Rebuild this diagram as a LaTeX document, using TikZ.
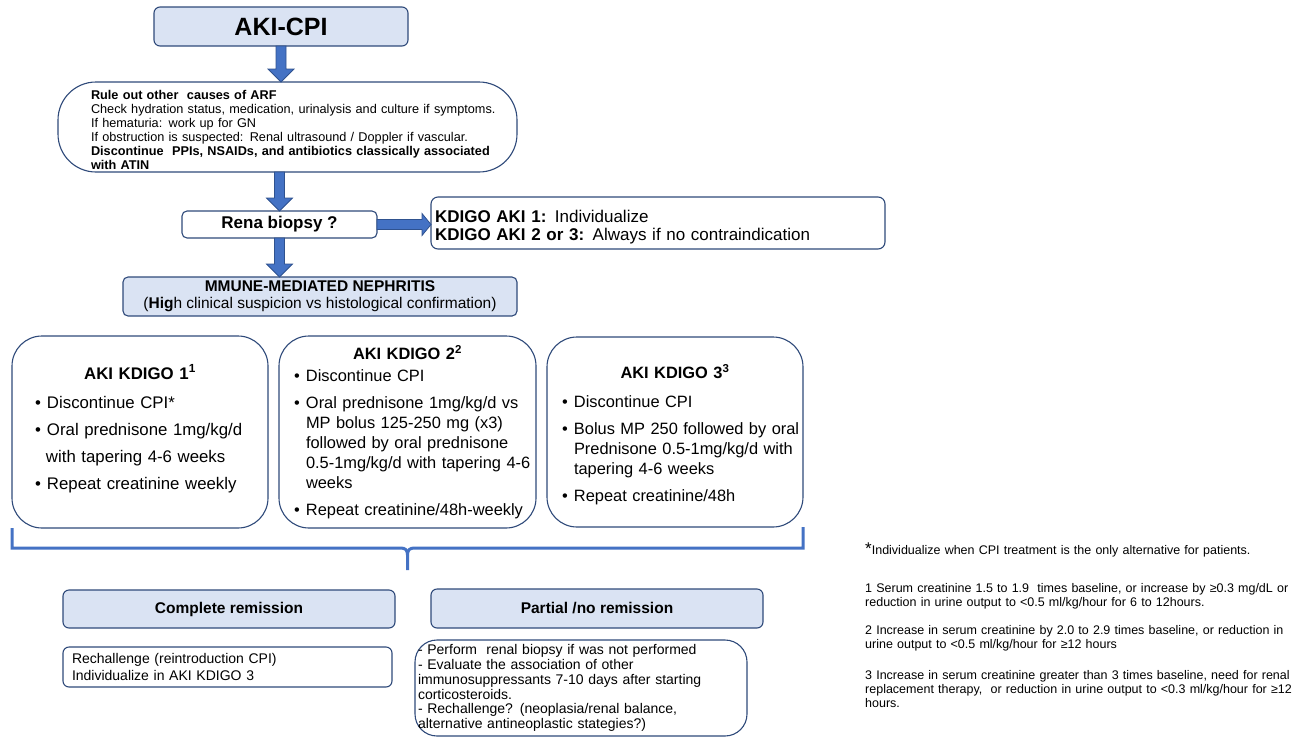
\documentclass[tikz,border=0pt]{standalone}
\usepackage{fontspec}
\setmainfont{Liberation Sans}
\usetikzlibrary{calc}
\definecolor{lb}{HTML}{DAE3F3}
\definecolor{bd}{HTML}{2F4A7A}
\definecolor{ab}{HTML}{4472C4}
\definecolor{abd}{HTML}{2F528F}
\newcommand\fs[2]{\fontsize{#1}{#2}\selectfont}
\newcommand\kset[1]{\raggedright\leftskip=#1\rightskip=-20pt plus 1fil\relax}
\newcommand\nl{\break}
\newcommand\bitem[1]{\par\hangindent=12pt\hangafter=1\noindent\makebox[12pt][l]{\textbullet}#1}
\newcommand\fatdown[2]{\draw[fatarrow] let \p1=(#1), \p2=(#2) in (\x1-5pt,\y1) -- (\x1-5pt,\y2+13pt) -- (\x1-13pt,\y2+13pt) -- (\x1,\y2) -- (\x1+13pt,\y2+13pt) -- (\x1+5pt,\y2+13pt) -- (\x1+5pt,\y1) -- cycle;}
\newcommand\fatright[2]{\draw[fatarrow] let \p1=(#1), \p2=(#2) in (\x1,\y1+5pt) -- (\x2-9pt,\y1+5pt) -- (\x2-9pt,\y1+11pt) -- (\x2,\y1) -- (\x2-9pt,\y1-11pt) -- (\x2-9pt,\y1-5pt) -- (\x1,\y1-5pt) -- cycle;}
\begin{document}
\begin{tikzpicture}[x=1pt,y=-1pt,
  box/.style={draw=bd, line width=1.1pt, rounded corners=6pt, fill=white, inner sep=0pt, outer sep=0pt},
  bluebox/.style={box, fill=lb},
  bigbox/.style={box, rounded corners=30pt, minimum height=192pt},
  boxtext/.style={anchor=north, inner sep=0pt, font=\fs{16.4}{20}},
  fatarrow/.style={fill=ab, draw=abd, line width=0.8pt, line join=miter},
  bracket/.style={draw=ab, line width=3pt}]
\useasboundingbox (0,0) rectangle (1301,737);

\node[bluebox, minimum width=254pt, minimum height=39pt, font=\fs{25}{30}\bfseries] (aki) at (281,26.5) {AKI-CPI};

\node[box, rounded corners=38pt, minimum width=459pt, minimum height=90pt, text width=455pt, font=\fs{12.7}{14}] (rule) at (287.5,127)
{\par\vspace*{2pt}\kset{31pt}\textbf{Rule out other\ \ causes of ARF}\\
Check hydration status, medication, urinalysis and culture if symptoms.\\
If hematuria: work up for GN\\
If obstruction is suspected: Renal ultrasound / Doppler if vascular.\\
\textbf{Discontinue\ \ PPIs, NSAIDs, and antibiotics classically associated}\\
\textbf{with ATIN}\par};

\node[box, rounded corners=5pt, minimum width=195pt, minimum height=27pt, font=\fs{17}{20}\bfseries] (rena) at (279.5,224.5) {Rena biopsy ?};

\node[box, rounded corners=7pt, minimum width=454pt, minimum height=52pt, text width=446pt, font=\fs{17}{18}] (kd) at (658,223)
{\par\vspace*{3pt}\kset{0pt}\textbf{KDIGO AKI 1:} Individualize\\
\textbf{KDIGO AKI 2 or 3:} Always if no contraindication\par};

\node[bluebox, rounded corners=5pt, minimum width=394pt, minimum height=39pt, align=center, font=\fs{15.5}{17}] (mm) at (320,296.5)
{\textbf{MMUNE-MEDIATED NEPHRITIS}\\(\textbf{Hig}h clinical suspicion vs histological confirmation)};

\node[bigbox, minimum width=256pt] (k1) at (140,432) {};
\node[boxtext, text width=252pt, font=\fs{16.8}{20}] (k1t) at ($(k1.north)+(0,28.5)$)
{\parskip=7pt{\centering\bfseries AKI KDIGO 1\textsuperscript{1}\par}\vspace{2pt}\kset{21pt}
\bitem{Discontinue CPI*}
\bitem{Oral prednisone 1mg/kg/d}
\par\noindent\hspace*{11pt}with tapering 4-6 weeks
\bitem{Repeat creatinine weekly}\par};

\node[bigbox, minimum width=257pt] (k2) at (407.5,432) {};
\node[boxtext, text width=253pt] (k2t) at ($(k2.north)+(0,9.5)$)
{\parskip=7pt{\centering\bfseries AKI KDIGO 2\textsuperscript{2}\par}\vspace{-5pt}\kset{13pt}
\bitem{Discontinue CPI}
\bitem{Oral prednisone 1mg/kg/d vs\nl MP bolus 125-250 mg (x3)\nl followed by oral prednisone\nl 0.5-1mg/kg/d with tapering 4-6\nl weeks}
\bitem{Repeat creatinine/48h-weekly}\par};

\node[bigbox, minimum width=256pt, minimum height=190pt] (k3) at (675,432) {};
\node[boxtext, text width=252pt] (k3t) at ($(k3.north)+(0,27.5)$)
{\parskip=7pt{\centering\bfseries AKI KDIGO 3\textsuperscript{3}\par}\vspace{2pt}\kset{13pt}
\bitem{Discontinue CPI}
\bitem{Bolus MP 250 followed by oral\nl Prednisone 0.5-1mg/kg/d with\nl tapering 4-6 weeks}
\bitem{Repeat creatinine/48h}\par};

\coordinate (bc) at ($(k2.south)+(0,20)$);
\draw[bracket] (k1.south west) -- (k1.south west |- bc) -- ($(bc)+(-7,0)$) .. controls ($(bc)+(-2,0)$) and ($(bc)+(0,2)$) .. ($(bc)+(0,7)$) -- ($(bc)+(0,22)$);
\draw[bracket] ($(bc)+(0,7)$) .. controls ($(bc)+(0,2)$) and ($(bc)+(2,0)$) .. ($(bc)+(7,0)$) -- (k3.south east |- bc) -- (k3.south east);

\node[bluebox, minimum width=332pt, minimum height=38pt, font=\fs{15.5}{18}\bfseries] (cr) at (229,609) {Complete remission};
\node[box, minimum width=329pt, minimum height=40pt, text width=311pt, align=left, font=\fs{14}{17}] (rc) at (227.5,667)
{Rechallenge (reintroduction CPI)\\Individualize in AKI KDIGO 3};

\node[bluebox, minimum width=332pt, minimum height=39pt, font=\fs{15.5}{18}\bfseries] (pr) at (597,608.5) {Partial /no remission};
\node[box, rounded corners=22pt, minimum width=332pt, minimum height=96pt, text width=326pt, align=left, font=\fs{14}{14.8}] (pd) at (581,688)
{- Perform\ \ renal biopsy if was not performed\\
- Evaluate the association of other\\
immunosuppressants 7-10 days after starting\\
corticosteroids.\\
- Rechallenge? (neoplasia/renal balance,\\
alternative antineoplastic stategies?)};

\node[anchor=north west, inner sep=0pt, text width=440pt, font=\fs{12.5}{14}] (fn) at (865,543)
{\parskip=14pt\raggedright
{\fs{17}{14}*}Individualize when CPI treatment is the only alternative for patients.\par\vspace{10pt}
1 Serum creatinine 1.5 to 1.9\ \ times baseline, or increase by ≥0.3 mg/dL or\\reduction in urine output to <0.5 ml/kg/hour for 6 to 12hours.\par
2 Increase in serum creatinine by 2.0 to 2.9 times baseline, or reduction in\\urine output to <0.5 ml/kg/hour for ≥12 hours\par\vspace{3pt}
3 Increase in serum creatinine greater than 3 times baseline, need for renal\\replacement therapy,\ \ or reduction in urine output to <0.3 ml/kg/hour for ≥12\\hours.\par};

\fatdown{aki.south}{aki.south |- rule.north}
\fatdown{rena.north |- rule.south}{rena.north}
\fatdown{rena.south}{rena.south |- mm.north}
\fatright{rena.east}{rena.east -| kd.west}
\end{tikzpicture}
\end{document}
